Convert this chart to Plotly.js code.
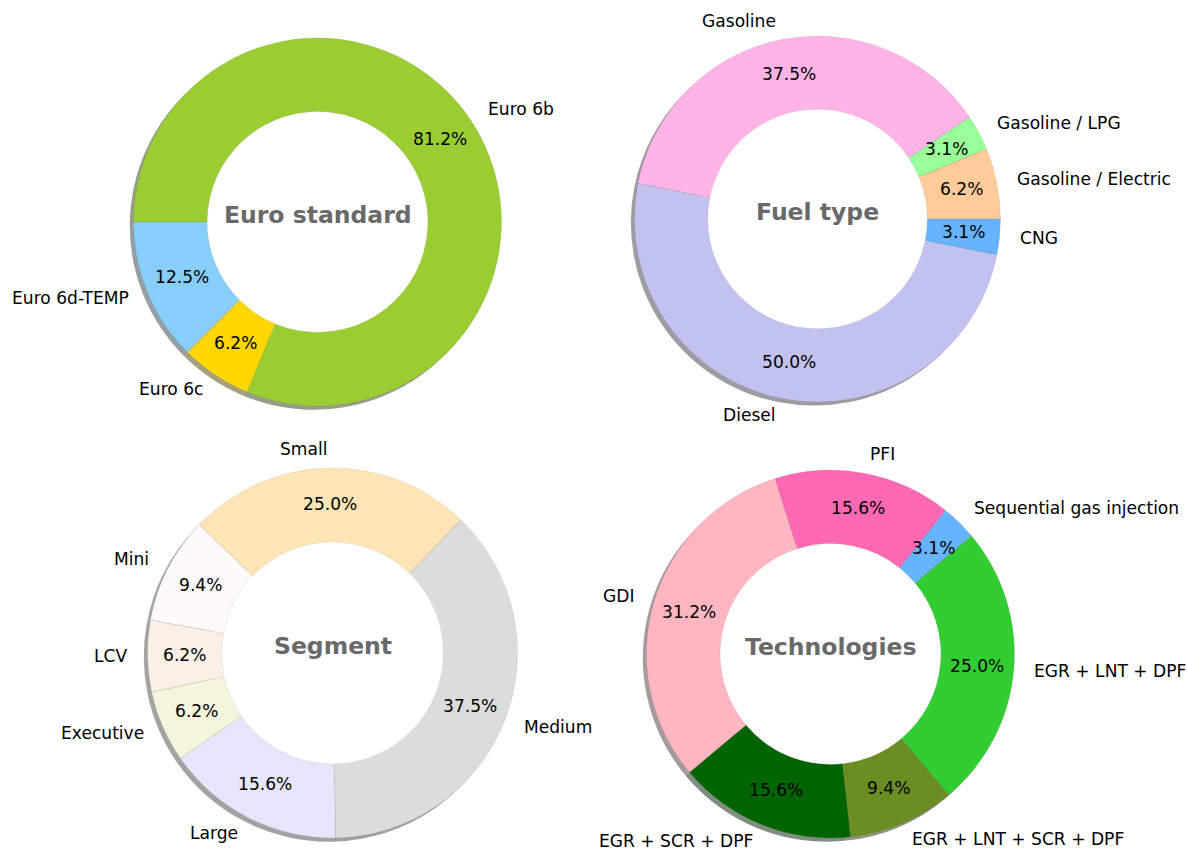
<!DOCTYPE html>
<html>
<head>
<meta charset="utf-8">
<script src="https://cdn.plot.ly/plotly-3.0.1.min.js"></script>
<style>
html,body{margin:0;padding:0;background:#ffffff;}
#chart{width:1187px;height:848px;}
</style>
</head>
<body>
<div id="chart"></div>
<script>
// ---- data (slices listed counterclockwise from each chart's start angle) ----
const euroLabels = ['Euro 6d-TEMP', 'Euro 6c', 'Euro 6b'];
const euroValues = [12.5, 6.25, 81.25];
const euroColors = ['#87CEFA', '#FFD700', '#9ACD32'];

const fuelLabels = ['CNG', 'Gasoline / Electric', 'Gasoline / LPG', 'Gasoline', 'Diesel'];
const fuelValues = [3.125, 6.25, 3.125, 37.5, 50.0];
const fuelColors = ['#66b3ff', '#ffcc99', '#99ff99', '#ffb3e6', '#c2c2f0'];

const segLabels = ['Medium', 'Small', 'Mini', 'LCV', 'Executive', 'Large'];
const segValues = [37.5, 25.0, 9.375, 6.25, 6.25, 15.625];
const segColors = ['#DCDCDC', '#FFE4B5', '#FFFAFA', '#FAF0E6', '#F5F5DC', '#E6E6FA'];

const techLabels = ['Sequential gas injection', 'PFI', 'GDI', 'EGR + SCR + DPF', 'EGR + LNT + SCR + DPF', 'EGR + LNT + DPF'];
const techValues = [3.125, 15.625, 31.25, 15.625, 9.375, 25.0];
const techColors = ['#66b3ff', '#FF69B4', '#FFB6C1', '#006400', '#6B8E23', '#32CD32'];

const chartTitles = ['Euro standard', 'Fuel type', 'Segment', 'Technologies'];

// ---- layout geometry (pixels) ----
const W = 1187, H = 848;
const charts = [
  {title: chartTitles[0], labels: euroLabels, values: euroValues, colors: euroColors, start: 180,    cx: 317.5, cy: 222, r: 184},
  {title: chartTitles[1], labels: fuelLabels, values: fuelValues, colors: fuelColors, start: 348.75, cx: 817.5, cy: 219, r: 183},
  {title: chartTitles[2], labels: segLabels,  values: segValues,  colors: segColors,  start: 271,    cx: 332.5, cy: 653, r: 185},
  {title: chartTitles[3], labels: techLabels, values: techValues, colors: techColors, start: 40,     cx: 830.5, cy: 654, r: 184}
];

const HOLE = 0.6;
const LABEL_DIST = 1.1, PCT_DIST = 0.8;
const FONT = 'DejaVu Sans, Verdana, sans-serif';
const TXT_SIZE = 17.1;

function hexToRgb(h) {
  h = h.replace('#', '');
  return [parseInt(h.substr(0, 2), 16), parseInt(h.substr(2, 2), 16), parseInt(h.substr(4, 2), 16)];
}
function shadowColor(h) {
  const c = hexToRgb(h);
  return 'rgba(' + Math.round(c[0] * 0.3) + ',' + Math.round(c[1] * 0.3) + ',' + Math.round(c[2] * 0.3) + ',0.5)';
}
// round-half-even to one decimal, like Python's '%1.1f'
function fmtPct(p) {
  const x = p * 10;
  let f = Math.floor(x);
  const diff = x - f;
  if (Math.abs(diff - 0.5) < 1e-9) { if (f % 2 !== 0) f += 1; }
  else if (diff > 0.5) f += 1;
  return (f / 10).toFixed(1) + '%';
}

const traces = [];
const annotations = [];

charts.forEach(function (c) {
  const dom = {
    x: [(c.cx - c.r) / W, (c.cx + c.r) / W],
    y: [1 - (c.cy + c.r) / H, 1 - (c.cy - c.r) / H]
  };
  const d = 0.02 * c.r;
  const sdom = {
    x: [dom.x[0] - d / W, dom.x[1] - d / W],
    y: [dom.y[0] - d / H, dom.y[1] - d / H]
  };
  const revLabels = c.labels.slice().reverse();
  const revValues = c.values.slice().reverse();
  const revColors = c.colors.slice().reverse();
  const rot = 90 - c.start;

  // shadow
  traces.push({
    type: 'pie', labels: revLabels, values: revValues, sort: false,
    direction: 'clockwise', rotation: rot, hole: HOLE + 0.04,
    domain: sdom, textinfo: 'none', hoverinfo: 'skip', showlegend: false,
    marker: {colors: revColors.map(shadowColor), line: {width: 0}}
  });
  // main donut
  traces.push({
    type: 'pie', labels: revLabels, values: revValues, sort: false,
    direction: 'clockwise', rotation: rot, hole: HOLE,
    domain: dom, textinfo: 'none', hoverinfo: 'label+percent', showlegend: false,
    marker: {colors: revColors, line: {width: 0.5, color: 'rgba(110,110,110,0.25)'}}
  });

  // labels and percentages
  const total = c.values.reduce(function (a, b) { return a + b; }, 0);
  let cum = 0;
  c.values.forEach(function (v, i) {
    const theta = (c.start + (cum + v / 2) / total * 360) * Math.PI / 180;
    cum += v;
    const cs = Math.cos(theta), sn = Math.sin(theta);
    const lx = c.cx + LABEL_DIST * c.r * cs, ly = c.cy - LABEL_DIST * c.r * sn;
    annotations.push({
      xref: 'paper', yref: 'paper', x: lx / W, y: 1 - (ly - 1) / H,
      text: c.labels[i], showarrow: false,
      xanchor: cs > 0 ? 'left' : 'right', yanchor: 'middle',
      font: {family: FONT, size: TXT_SIZE, color: '#000000'}
    });
    const px = c.cx + PCT_DIST * c.r * cs, py = c.cy - PCT_DIST * c.r * sn;
    annotations.push({
      xref: 'paper', yref: 'paper', x: px / W, y: 1 - (py - 1) / H,
      text: fmtPct(100 * v / total), showarrow: false,
      xanchor: 'center', yanchor: 'middle',
      font: {family: FONT, size: TXT_SIZE, color: '#000000'}
    });
  });
  annotations.push({
    xref: 'paper', yref: 'paper', x: c.cx / W, y: 1 - (c.cy - 7) / H,
    text: '<b>' + c.title + '</b>', showarrow: false,
    xanchor: 'center', yanchor: 'middle',
    font: {family: FONT, size: 23.5, color: '#696969'}
  });
});

const layout = {
  width: W, height: H,
  margin: {l: 0, r: 0, t: 0, b: 0, pad: 0},
  paper_bgcolor: '#ffffff', plot_bgcolor: '#ffffff',
  showlegend: false,
  font: {family: FONT, size: TXT_SIZE, color: '#000000'},
  annotations: annotations
};

Plotly.newPlot('chart', traces, layout, {displayModeBar: false, staticPlot: true});
</script>
</body>
</html>
